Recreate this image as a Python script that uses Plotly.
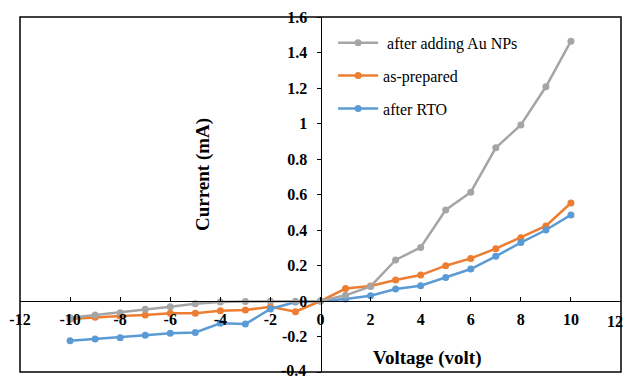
import plotly.graph_objects as go

voltage = [-10, -9, -8, -7, -6, -5, -4, -3, -2, -1, 0, 1, 2, 3, 4, 5, 6, 7, 8, 9, 10]

au_nps = [-0.094, -0.079, -0.066, -0.047, -0.032, -0.015, -0.006, -0.003, -0.002, -0.001, 0.0,
          0.032, 0.082, 0.231, 0.302, 0.513, 0.613, 0.863, 0.992, 1.207, 1.464]
as_prepared = [-0.102, -0.092, -0.085, -0.079, -0.069, -0.069, -0.055, -0.051, -0.032, -0.06, 0.0,
               0.07, 0.084, 0.118, 0.146, 0.199, 0.24, 0.295, 0.357, 0.423, 0.552]
after_rto = [-0.224, -0.214, -0.207, -0.193, -0.182, -0.177, -0.126, -0.13, -0.045, -0.006, 0.0,
             0.011, 0.03, 0.068, 0.086, 0.133, 0.18, 0.252, 0.329, 0.4, 0.485]

x_ticks = [-12, -10, -8, -6, -4, -2, 0, 2, 4, 6, 8, 10, 12]
y_ticks = [-0.4, -0.2, 0, 0.2, 0.4, 0.6, 0.8, 1, 1.2, 1.4, 1.6]
y_tick_text = ["-0.4", "-0.2", "0", "0.2", "0.4", "0.6", "0.8", "1", "1.2", "1.4", "1.6"]

series = [
    (" after adding Au NPs", au_nps, "#A5A5A5", 1),
    ("as-prepared", as_prepared, "#ED7D31", 2),
    ("after RTO", after_rto, "#5B9BD5", 3),
]

SERIF = "Liberation Serif"

fig = go.Figure()
for name, vals, color, rank in [series[1], series[2], series[0]]:
    fig.add_trace(go.Scatter(
        x=voltage, y=vals, name=name, mode="lines+markers",
        line=dict(color=color, width=2.5),
        marker=dict(color=color, size=7, symbol="circle"),
        legendrank=rank, legendgroup=name,
    ))

tick_font = dict(family=SERIF, size=16, color="black")

# edge tick labels that plotly would hide (they run past the figure border)
edge_labels = [
    dict(text="<b>" + str(x_ticks[-1]) + "</b>", xref="paper", yref="y", x=1, y=0,
         xanchor="right", xshift=4, yshift=-20, showarrow=False, font=tick_font),
    dict(text="<b>" + y_tick_text[0] + "</b>", xref="x", yref="y", x=0, y=y_ticks[0],
         xanchor="right", yanchor="middle", xshift=-13, yshift=2, showarrow=False, font=tick_font),
]

fig.update_layout(
    width=625, height=379,
    margin=dict(l=20, r=4, t=17, b=7),
    paper_bgcolor="white", plot_bgcolor="white",
    showlegend=True,
    legend=dict(
        x=0.521, y=0.975, xanchor="left", yanchor="top",
        font=dict(family=SERIF, size=16, color="black"),
        bgcolor="rgba(0,0,0,0)", tracegroupgap=9, itemwidth=40,
    ),
    xaxis=dict(
        range=[-12, 12], tickvals=x_ticks, ticktext=["<b>%d</b>" % v for v in x_ticks],
        showgrid=False, zeroline=False, showline=True, linecolor="black", linewidth=1,
        ticks="inside", ticklen=4, tickcolor="black", ticklabelstandoff=4,
        tickfont=tick_font, anchor="free", position=0.2,
    ),
    yaxis=dict(
        range=[-0.4, 1.6], tickvals=y_ticks, ticktext=["<b>%s</b>" % t for t in y_tick_text],
        showgrid=False, zeroline=False, showline=True, linecolor="black", linewidth=1,
        ticks="outside", ticklen=4, tickcolor="black", ticklabelstandoff=6,
        tickfont=tick_font, anchor="free", position=0.5,
    ),
    shapes=[dict(type="rect", xref="paper", yref="paper", x0=0, x1=1, y0=0, y1=1,
                 line=dict(color="black", width=1.5), layer="above")],
    annotations=[
        dict(text="<b>Current (mA)</b>", xref="paper", yref="paper", x=(203 - 20) / 601,
             y=1 - (175 - 17) / 355, xanchor="center", yanchor="middle",
             showarrow=False, textangle=-90,
             font=dict(family=SERIF, size=19, color="black")),
        dict(text="<b>Voltage (volt)</b>", xref="paper", yref="paper", x=(427 - 20) / 601,
             y=1 - (358 - 17) / 355, xanchor="center", yanchor="middle", showarrow=False,
             font=dict(family=SERIF, size=19, color="black")),
    ] + edge_labels,
)

fig.write_html("out.html")
